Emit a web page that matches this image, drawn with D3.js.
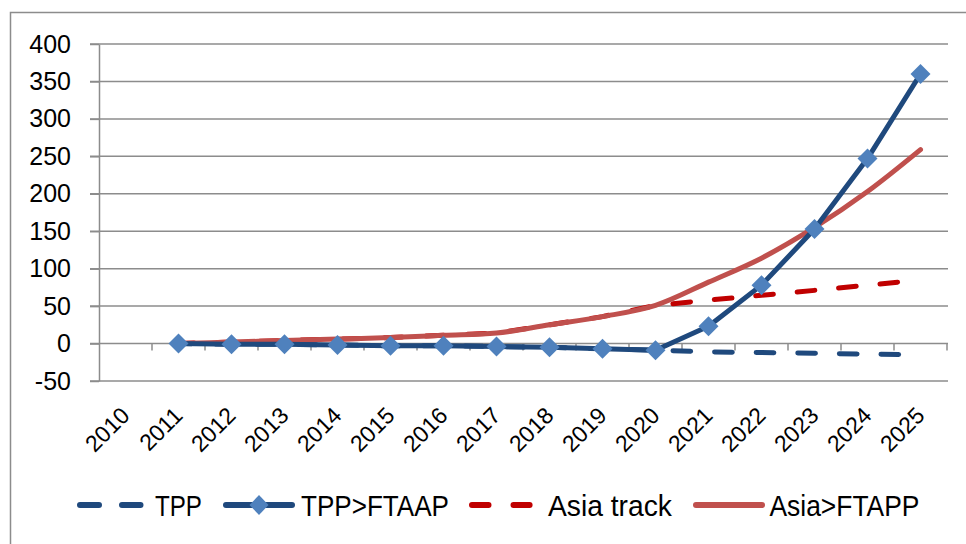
<!DOCTYPE html>
<html>
<head>
<meta charset="utf-8">
<script src="https://cdn.jsdelivr.net/npm/d3@7"></script>
<style>
  body { margin: 0; background: #fff; }
  text { font-family: "Liberation Sans", Arial, sans-serif; fill: #000; }
</style>
</head>
<body>
<script>
// chart data
const years = ["2010","2011","2012","2013","2014","2015","2016","2017","2018","2019","2020","2021","2022","2023","2024","2025"];
const tpp       = [null, 0, -1, -1, -2, -3, -3, -4, -5, -7, -9, -11, -12, -13, -14, -15];
const tppFtaap  = [null, 0, -1, -1, -2, -3, -3, -4, -5, -7, -9, 23, 78, 153, 247, 360];
const asiaTrack = [null, 0, 2, 4, 6, 8, 11, 14, 25, 36, 51, 58, 64.5, 71, 78, 85];
const asiaFtapp = [null, 0, 2, 4, 6, 8, 11, 14, 25, 36, 51, 82, 114, 155, 203, 259];
const yTicks = [-50, 0, 50, 100, 150, 200, 250, 300, 350, 400];
const seriesNames = ["TPP", "TPP>FTAAP", "Asia track", "Asia>FTAPP"];

const width = 966, height = 544;
const svg = d3.select("body").append("svg")
    .attr("width", width)
    .attr("height", height);

// outer chart border (runs off the right / bottom of the picture)
svg.append("rect")
    .attr("x", 10.5).attr("y", 12.5)
    .attr("width", 980).attr("height", 560)
    .attr("fill", "none")
    .attr("stroke", "#8c8c8c")
    .attr("stroke-width", 1.5);

const x = d3.scaleBand().domain(years).range([99, 947]);
const y = d3.scaleLinear().domain([-50, 400]).range([381, 44]);
const cx = d => x(d) + x.bandwidth() / 2;

// gridlines
svg.append("g").selectAll("line")
    .data(yTicks)
    .enter().append("line")
    .attr("x1", 90).attr("x2", 948)
    .attr("y1", d => y(d)).attr("y2", d => y(d))
    .attr("stroke", "#8c8c8c")
    .attr("stroke-width", 1.5);

// y axis
const yAxis = svg.append("g")
    .attr("transform", "translate(99,0)")
    .call(d3.axisLeft(y).tickValues(yTicks).tickFormat(d => String(d))
        .tickSize(9).tickSizeOuter(0).tickPadding(19));
yAxis.select(".domain").attr("stroke", "#8c8c8c").attr("stroke-width", 1.5);
yAxis.selectAll(".tick line").attr("stroke", "#8c8c8c").attr("stroke-width", 1.5);
yAxis.selectAll(".tick text")
    .attr("font-size", 25)
    .attr("font-family", "Liberation Sans, Arial, sans-serif")
    .attr("fill", "#000");

// category ticks sit on the zero line
const bounds = years.map(d => x(d)).concat([x.range()[1]]);
svg.append("g").selectAll("line")
    .data(bounds.slice(1))
    .enter().append("line")
    .attr("x1", d => d).attr("x2", d => d)
    .attr("y1", y(0)).attr("y2", y(0) + 7)
    .attr("stroke", "#8c8c8c")
    .attr("stroke-width", 1.5);

// rotated year labels below the plot
svg.append("g").selectAll("text")
    .data(years)
    .enter().append("text")
    .attr("transform", d => `translate(${cx(d) + 5.5},417) rotate(-45)`)
    .attr("text-anchor", "end")
    .attr("font-size", 23)
    .text(d => d);

const rows = years.map((yr, i) => ({yr, tpp: tpp[i], tppFtaap: tppFtaap[i], asiaTrack: asiaTrack[i], asiaFtapp: asiaFtapp[i]}));

const lineOf = (key, curve) => d3.line()
    .defined(d => d[key] != null)
    .x(d => cx(d.yr))
    .y(d => y(d[key]))
    .curve(curve);

const dashArr = [17.7, 23.9];
const period = dashArr[0] + dashArr[1];

// dashed series underneath the solid ones
function dashed(key, color) {
    const p = svg.append("path")
        .datum(rows)
        .attr("d", lineOf(key, d3.curveLinear))
        .attr("fill", "none")
        .attr("stroke", color)
        .attr("stroke-width", 5)
        .attr("stroke-linecap", "round")
        .attr("stroke-dasharray", dashArr.join(","));
    // line the dashes up so the first visible one starts just after 2020
    const node = p.node();
    const target = cx("2020");
    let lo = 0, hi = node.getTotalLength();
    for (let k = 0; k < 40; k++) {
        const mid = (lo + hi) / 2;
        if (node.getPointAtLength(mid).x < target) lo = mid; else hi = mid;
    }
    const start = lo + 17.5;
    p.attr("stroke-dashoffset", period - (start % period));
}
dashed("tpp", "#1F497D");
dashed("asiaTrack", "#C00000");

svg.append("path")
    .datum(rows)
    .attr("d", lineOf("asiaFtapp", d3.curveCatmullRom.alpha(0.5)))
    .attr("fill", "none")
    .attr("stroke", "#C0504D")
    .attr("stroke-width", 5)
    .attr("stroke-linecap", "round");

svg.append("path")
    .datum(rows)
    .attr("d", lineOf("tppFtaap", d3.curveLinear))
    .attr("fill", "none")
    .attr("stroke", "#1F497D")
    .attr("stroke-width", 5)
    .attr("stroke-linejoin", "round");

svg.append("g").selectAll("path")
    .data(rows.filter(d => d.tppFtaap != null))
    .enter().append("path")
    .attr("d", "M0,-10L10,0L0,10L-10,0Z")
    .attr("transform", d => `translate(${cx(d.yr)},${y(d.tppFtaap)})`)
    .attr("fill", "#4F81BD");

// legend
const ly = 505;
const legend = svg.append("g");
const legItems = [
    {x1: 80, x2: 140.5, color: "#1F497D", dash: "19,23", tx: 155, tw: 47},
    {x1: 226, x2: 292, color: "#1F497D", marker: true, tx: 301, tw: 148},
    {x1: 472, x2: 529.6, color: "#C00000", dash: "16.5,25", tx: 548, tw: 124},
    {x1: 696, x2: 762, color: "#C0504D", tx: 769.5, tw: 150}
];
legItems.forEach((it, i) => {
    legend.append("line")
        .attr("x1", it.x1).attr("x2", it.x2)
        .attr("y1", ly).attr("y2", ly)
        .attr("stroke", it.color)
        .attr("stroke-width", 6)
        .attr("stroke-linecap", "round")
        .attr("stroke-dasharray", it.dash || null);
    if (it.marker) {
        legend.append("path")
            .attr("d", "M0,-10L9.5,0L0,10L-9.5,0Z")
            .attr("transform", `translate(${(it.x1 + it.x2) / 2},${ly})`)
            .attr("fill", "#4F81BD");
    }
    // fit the lettering to the width it takes in the original
    const t = legend.append("text")
        .attr("font-size", 29)
        .text(seriesNames[i]);
    const natural = t.node().getComputedTextLength();
    t.attr("transform", `translate(${it.tx},${ly + 10.5}) scale(${it.tw / natural},1)`);
});
</script>
</body>
</html>
